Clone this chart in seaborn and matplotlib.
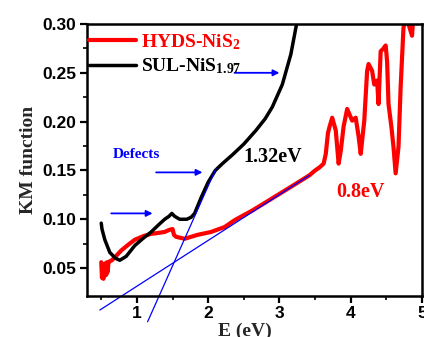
import matplotlib
matplotlib.use('Agg')
from matplotlib import pyplot as plt
import seaborn as sns

# SUL-NiS1.97 (black)
black_e = [0.50, 0.51, 0.55, 0.62, 0.70, 0.76, 0.85, 0.97, 1.08, 1.20, 1.30, 1.39,
           1.45, 1.49, 1.53, 1.60, 1.70, 1.76, 1.81, 1.90, 2.00, 2.10, 2.20, 2.34,
           2.50, 2.67, 2.80, 2.90, 3.04, 3.16, 3.23, 3.27]
black_km = [0.096, 0.090, 0.079, 0.066, 0.060, 0.058, 0.062, 0.073, 0.080, 0.087, 0.094, 0.100,
            0.103, 0.106, 0.103, 0.100, 0.100, 0.102, 0.106, 0.122, 0.138, 0.150, 0.157, 0.166,
            0.177, 0.191, 0.203, 0.215, 0.238, 0.269, 0.296, 0.310]

# HYDS-NiS2 (red)
red_e = [0.50, 0.51, 0.52, 0.53, 0.54, 0.55, 0.56, 0.57, 0.58, 0.59, 0.60, 0.62, 0.65, 0.69,
         0.78, 0.88, 0.97, 1.10, 1.20, 1.30, 1.39, 1.45, 1.50, 1.52, 1.55, 1.67, 1.85,
         2.04, 2.23, 2.37, 2.62, 2.80, 3.00, 3.20, 3.42, 3.50, 3.56, 3.62, 3.65, 3.68,
         3.70, 3.74, 3.79, 3.83, 3.86, 3.90, 3.95, 4.02, 4.07, 4.11, 4.14, 4.19, 4.23,
         4.25, 4.30, 4.33, 4.37, 4.39, 4.42, 4.46, 4.49, 4.51, 4.53, 4.57, 4.60, 4.63,
         4.67, 4.70, 4.74, 4.78, 4.81, 4.86, 4.88, 4.92]
red_km = [0.056, 0.040, 0.054, 0.039, 0.052, 0.042, 0.055, 0.043, 0.056, 0.046, 0.055, 0.057, 0.058, 0.061,
          0.068, 0.074, 0.079, 0.083, 0.085, 0.086, 0.087, 0.089, 0.090, 0.084, 0.082, 0.080, 0.084,
          0.087, 0.092, 0.099, 0.109, 0.117, 0.126, 0.135, 0.145, 0.150, 0.153, 0.157, 0.167, 0.188,
          0.194, 0.204, 0.191, 0.157, 0.170, 0.195, 0.213, 0.201, 0.204, 0.185, 0.167, 0.201, 0.252,
          0.259, 0.252, 0.238, 0.242, 0.218, 0.272, 0.275, 0.278, 0.262, 0.218, 0.195, 0.174, 0.147,
          0.174, 0.235, 0.296, 0.310, 0.300, 0.288, 0.310, 0.310]

# tangent (Tauc-like) fits
tan_red_e = [0.48, 3.42]
tan_red_km = [0.007, 0.145]
tan_black_e = [1.15, 2.11]
tan_black_km = [-0.005, 0.152]

x_ticks = [1, 2, 3, 4, 5]
y_ticks = [0.05, 0.10, 0.15, 0.20, 0.25, 0.30]

sns.set_theme(style='ticks')
plt.rcParams['font.family'] = ['Liberation Sans', 'DejaVu Sans']
plt.rcParams['mathtext.fontset'] = 'custom'
plt.rcParams['mathtext.rm'] = 'Liberation Serif:bold'
plt.rcParams['mathtext.default'] = 'rm'

SERIF = 'Liberation Serif'
RED = '#ff0000'
BLUE = '#0000ff'


def main():
    fig = plt.figure(figsize=(4.24, 3.37), dpi=100)
    ax = fig.add_axes([0.2052, 0.1217, 0.7901, 0.8071])

    sns.lineplot(x=red_e, y=red_km, ax=ax, color=RED, lw=3.0, sort=False,
                 estimator=None, label='HYDS-NiS$_2$')
    sns.lineplot(x=black_e, y=black_km, ax=ax, color='black', lw=2.5, sort=False,
                 estimator=None, label='SUL-NiS$_{1.97}$')

    ax.plot(tan_red_e, tan_red_km, color=BLUE, lw=0.9, clip_on=False)
    ax.plot(tan_black_e, tan_black_km, color=BLUE, lw=0.9, clip_on=False)

    arrows = [((0.64, 0.106), (1.22, 0.106)),
              ((1.27, 0.148), (1.92, 0.148)),
              ((2.37, 0.250), (3.00, 0.250))]
    for start, end in arrows:
        ax.annotate('', xy=end, xytext=start,
                    arrowprops=dict(arrowstyle='-|>', color=BLUE, lw=1.3,
                                    mutation_scale=9, shrinkA=0, shrinkB=0))

    ax.text(0.66, 0.166, 'Defects', color=BLUE, fontsize=11, fontweight='bold',
            family=SERIF, va='center', ha='left')
    ax.text(2.91, 0.164, '1.32eV', color='black', fontsize=14.5, fontweight='bold',
            family=SERIF, va='center', ha='center')
    ax.text(4.14, 0.128, '0.8eV', color=RED, fontsize=14.5, fontweight='bold',
            family=SERIF, va='center', ha='center')

    ax.set_xlim(0.3, 5.0)
    ax.set_ylim(0.0214, 0.30)
    ax.set_xticks(x_ticks)
    ax.set_yticks(y_ticks)
    ax.set_yticklabels([f'{v:.2f}' for v in y_ticks])
    ax.set_xticks([0.5, 1.5, 2.5, 3.5, 4.5], minor=True)
    ax.set_yticks([0.075, 0.125, 0.175, 0.225, 0.275], minor=True)

    for side in ['left', 'right', 'top', 'bottom']:
        ax.spines[side].set_linewidth(1.8)
        ax.spines[side].set_color('black')
    ax.tick_params(which='major', length=5, width=1.6, pad=2.5,
                   labelsize=12.5, colors='black')
    ax.tick_params(which='minor', length=3, width=1.4)
    for lab in ax.get_xticklabels() + ax.get_yticklabels():
        lab.set_fontweight('bold')

    ax.set_xlabel('E (eV)', family=SERIF, fontweight='bold', fontsize=14, labelpad=-2)
    ax.set_ylabel('KM function', family=SERIF, fontweight='bold', fontsize=14, labelpad=4)
    ax.xaxis.set_label_coords(0.47, -0.1)

    leg = ax.legend(loc='upper left', bbox_to_anchor=(0.007, 0.97), frameon=False,
                    handlelength=2.4, handletextpad=0.25, labelspacing=0.25,
                    borderpad=0, borderaxespad=0,
                    prop={'family': SERIF, 'weight': 'bold', 'size': 14})
    for txt, col in zip(leg.get_texts(), [RED, 'black']):
        txt.set_color(col)

    fig.savefig('out.png', dpi=100)


if __name__ == '__main__':
    main()
